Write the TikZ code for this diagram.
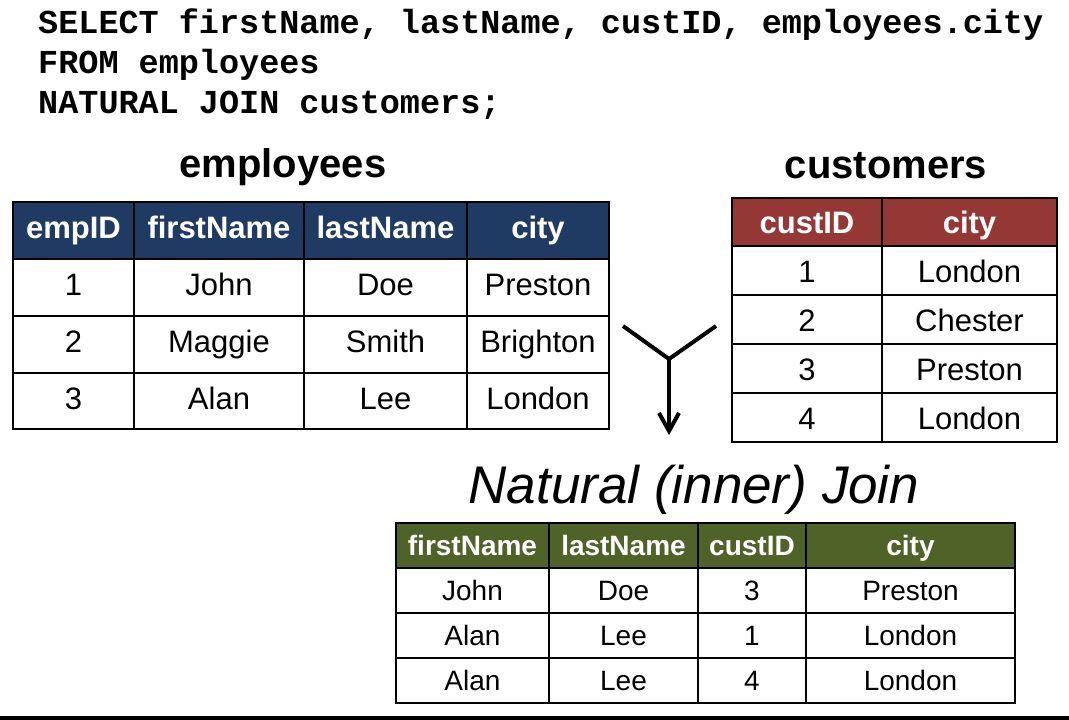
\documentclass[tikz,border=0pt]{standalone}
\usepackage{fontspec}
\setmainfont{Liberation Sans}
\newfontfamily\sqlfont{Liberation Mono}
\definecolor{navyhd}{HTML}{1F3B63}
\definecolor{redhd}{HTML}{953735}
\definecolor{greenhd}{HTML}{4F6228}
\tikzset{
  cellbase/.style={draw=black, line width=2pt, inner sep=0pt, align=center},
  bigcell/.style={cellbase, text height=22.3pt, text depth=6.2pt, font=\fontsize{31}{34}\selectfont},
  bighead/.style={bigcell, fill=#1, text=white, font=\fontsize{31}{34}\selectfont\bfseries},
  custcell/.style={bigcell, text height=30.3pt},
  custhead/.style={bighead=redhd, text height=28.3pt},
  smallcell/.style={cellbase, text height=26.1pt, text depth=5.6pt, font=\fontsize{28}{31}\selectfont},
  smallhead/.style={smallcell, fill=greenhd, text=white, font=\fontsize{28}{31}\selectfont\bfseries},
  sqltext/.style={anchor=base west, inner sep=0pt, font=\fontsize{33.5}{40}\sqlfont\bfseries},
  titletext/.style={anchor=base, inner sep=0pt, font=\fontsize{40}{44}\selectfont\bfseries},
  jointext/.style={anchor=base, inner sep=0pt, font=\fontsize{53}{58}\selectfont\itshape},
  joinline/.style={line width=4pt, line join=miter}
}
% name, x1, y1, x2, y2, style, text
\newcommand\tcell[7]{\node[#6, minimum width={(#4-#2)*1pt}, minimum height={(#5-#3)*1pt}] (#1) at ({(#2+#4)/2},{(#3+#5)/2}) {#7};}
\begin{document}
\begin{tikzpicture}[x=1pt,y=-1pt]
\useasboundingbox (0,0) rectangle (1069,720);
\fill[white] (0,0) rectangle (1069,720);
\fill[black] (0,716) rectangle (1069,720);

% SQL
\node[sqltext] (sql1) at (38,33) {SELECT firstName, lastName, custID, employees.city};
\node[sqltext] (sql2) at (38,73) {FROM employees};
\node[sqltext] (sql3) at (38,113) {NATURAL JOIN customers;};

% titles
\node[titletext] (tEmp) at (283,177) {employees};
\node[titletext] (tCust) at (886,178) {customers};
\node[jointext] (tJoin) at (694,503) {Natural (inner) Join};

% employees table
\tcell{eh1}{13}{202}{134}{259}{bighead=navyhd}{empID}
\tcell{eh2}{134}{202}{304}{259}{bighead=navyhd}{firstName}
\tcell{eh3}{304}{202}{467}{259}{bighead=navyhd}{lastName}
\tcell{eh4}{467}{202}{609}{259}{bighead=navyhd}{city}
\tcell{e11}{13}{259}{134}{316}{bigcell}{1}
\tcell{e12}{134}{259}{304}{316}{bigcell}{John}
\tcell{e13}{304}{259}{467}{316}{bigcell}{Doe}
\tcell{e14}{467}{259}{609}{316}{bigcell}{Preston}
\tcell{e21}{13}{316}{134}{373}{bigcell}{2}
\tcell{e22}{134}{316}{304}{373}{bigcell}{Maggie}
\tcell{e23}{304}{316}{467}{373}{bigcell}{Smith}
\tcell{e24}{467}{316}{609}{373}{bigcell}{Brighton}
\tcell{e31}{13}{373}{134}{429}{bigcell}{3}
\tcell{e32}{134}{373}{304}{429}{bigcell}{Alan}
\tcell{e33}{304}{373}{467}{429}{bigcell}{Lee}
\tcell{e34}{467}{373}{609}{429}{bigcell}{London}

% customers table
\tcell{ch1}{732}{198}{882}{246}{custhead}{custID}
\tcell{ch2}{882}{198}{1057}{246}{custhead}{city}
\tcell{c11}{732}{246}{882}{295}{custcell}{1}
\tcell{c12}{882}{246}{1057}{295}{custcell}{London}
\tcell{c21}{732}{295}{882}{344}{custcell}{2}
\tcell{c22}{882}{295}{1057}{344}{custcell}{Chester}
\tcell{c31}{732}{344}{882}{393}{custcell}{3}
\tcell{c32}{882}{344}{1057}{393}{custcell}{Preston}
\tcell{c41}{732}{393}{882}{442}{custcell}{4}
\tcell{c42}{882}{393}{1057}{442}{custcell}{London}

% result table
\tcell{rh1}{396}{523}{549}{568}{smallhead}{firstName}
\tcell{rh2}{549}{523}{698}{568}{smallhead}{lastName}
\tcell{rh3}{698}{523}{806}{568}{smallhead}{custID}
\tcell{rh4}{806}{523}{1015}{568}{smallhead}{city}
\tcell{r11}{396}{568}{549}{613}{smallcell}{John}
\tcell{r12}{549}{568}{698}{613}{smallcell}{Doe}
\tcell{r13}{698}{568}{806}{613}{smallcell}{3}
\tcell{r14}{806}{568}{1015}{613}{smallcell}{Preston}
\tcell{r21}{396}{613}{549}{658}{smallcell}{Alan}
\tcell{r22}{549}{613}{698}{658}{smallcell}{Lee}
\tcell{r23}{698}{613}{806}{658}{smallcell}{1}
\tcell{r24}{806}{613}{1015}{658}{smallcell}{London}
\tcell{r31}{396}{658}{549}{703}{smallcell}{Alan}
\tcell{r32}{549}{658}{698}{703}{smallcell}{Lee}
\tcell{r33}{698}{658}{806}{703}{smallcell}{4}
\tcell{r34}{806}{658}{1015}{703}{smallcell}{London}

% join arrow
\coordinate (armL) at (623,326);
\coordinate (armR) at (716,326);
\coordinate (armM) at (669,359);
\coordinate (armB) at (669,431);
\coordinate (barbL) at (659,413);
\coordinate (barbR) at (679,413);
\draw[joinline] (armL) -- (armM) -- (armR);
\draw[joinline] (armM) -- (armB);
\draw[joinline] (barbL) -- (armB) -- (barbR);
\end{tikzpicture}
\end{document}
